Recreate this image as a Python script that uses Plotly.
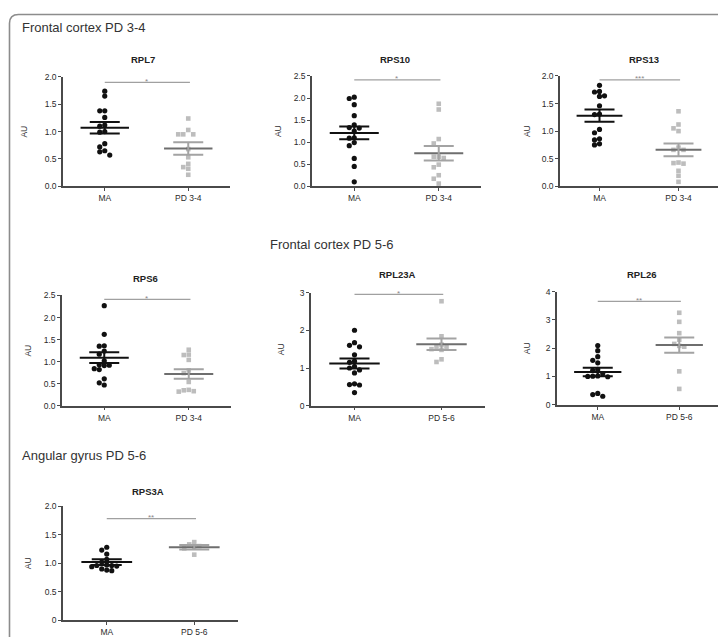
import plotly.graph_objects as go

W, H = 726, 637

# ---------------- data ----------------
panel_titles = ["RPL7", "RPS10", "RPS13", "RPS6", "RPL23A", "RPL26", "RPS3A"]
section_titles = ["Frontal cortex PD 3-4", "Frontal cortex PD 5-6", "Angular gyrus PD 5-6"]
control_label = "MA"
pd_labels = ["PD 3-4", "PD 3-4", "PD 3-4", "PD 3-4", "PD 5-6", "PD 5-6", "PD 5-6"]

ma_values = [
    [1.74, 1.65, 1.38, 1.38, 1.26, 1.12, 1.10, 1.00, 0.99, 0.78, 0.72, 0.65, 0.63, 0.57],
    [2.02, 1.99, 1.85, 1.60, 1.39, 1.33, 1.32, 1.25, 1.10, 1.09, 0.99, 0.92, 0.63, 0.45, 0.10],
    [1.83, 1.72, 1.71, 1.64, 1.63, 1.46, 1.31, 1.30, 1.03, 0.97, 0.86, 0.84, 0.77, 0.75],
    [2.27, 1.62, 1.36, 1.35, 1.24, 1.17, 1.02, 0.93, 0.92, 0.91, 0.84, 0.82, 0.61, 0.52, 0.47],
    [2.00, 1.67, 1.60, 1.56, 1.35, 1.18, 1.15, 1.04, 1.00, 0.95, 0.87, 0.58, 0.56, 0.55, 0.35],
    [2.09, 1.91, 1.70, 1.57, 1.48, 1.25, 1.22, 1.10, 1.02, 1.01, 1.00, 0.99, 0.40, 0.36, 0.30],
    [1.28, 1.23, 1.16, 1.07, 1.02, 0.97, 0.96, 0.96, 0.95, 0.94, 0.90, 0.88, 0.87],
]
pd_values = [
    [1.24, 1.03, 0.95, 0.95, 0.95, 0.68, 0.53, 0.41, 0.35, 0.32, 0.21],
    [1.87, 1.74, 1.07, 0.97, 0.67, 0.67, 0.64, 0.49, 0.43, 0.25, 0.17, 0.06],
    [1.36, 1.12, 1.05, 1.00, 0.70, 0.66, 0.66, 0.43, 0.42, 0.41, 0.28, 0.19, 0.08],
    [1.27, 1.16, 1.15, 1.04, 0.80, 0.74, 0.54, 0.36, 0.33, 0.32, 0.35],
    [2.77, 1.84, 1.62, 1.56, 1.55, 1.50, 1.48, 1.23, 1.16],
    [3.25, 2.93, 2.53, 2.30, 2.15, 2.08, 2.05, 1.18, 0.56],
    [1.37, 1.33, 1.30, 1.28, 1.26, 1.15],
]
ma_mean = [1.07, 1.21, 1.28, 1.09, 1.12, 1.16, 1.02]
ma_sem = [0.105, 0.145, 0.11, 0.12, 0.135, 0.15, 0.05]
pd_mean = [0.69, 0.75, 0.66, 0.72, 1.63, 2.11, 1.28]
pd_sem = [0.115, 0.165, 0.115, 0.11, 0.155, 0.27, 0.04]

y_max = [2.0, 2.5, 2.0, 2.5, 3.0, 4.0, 2.0]
y_tick_vals = [
    [0, 0.5, 1.0, 1.5, 2.0],
    [0, 0.5, 1.0, 1.5, 2.0, 2.5],
    [0, 0.5, 1.0, 1.5, 2.0],
    [0, 0.5, 1.0, 1.5, 2.0, 2.5],
    [0, 1, 2, 3],
    [0, 1, 2, 3, 4],
    [0, 0.5, 1.0, 1.5, 2.0],
]
y_tick_text = [
    ["0.0", "0.5", "1.0", "1.5", "2.0"],
    ["0.0", "0.5", "1.0", "1.5", "2.0", "2.5"],
    ["0.0", "0.5", "1.0", "1.5", "2.0"],
    ["0.0", "0.5", "1.0", "1.5", "2.0", "2.5"],
    ["0", "1", "2", "3"],
    ["0", "1", "2", "3", "4"],
    ["0", "0.5", "1.0", "1.5", "2.0"],
]
y_title = "AU"
sig_labels = ["*", "*", "***", "*", "*", "**", "**"]
sig_level = [1.90, 2.41, 1.93, 2.41, 2.95, 3.65, 1.78]

# ---------------- layout (pixel boxes) ----------------
dom_x = [(55, 222), (304, 473), (552, 710), (54, 223), (303, 477), (549, 712), (55, 230)]
dom_y = [(65, 176), (64, 176), (64, 176), (287, 399), (284, 399), (283, 398), (501, 617)]
title_pos = [(135, 47), (387, 47), (636, 47), (137, 270), (389, 266), (634, 266), (140, 486)]
au_x = [16, 270, 519, 20, 273, 519, 20]
section_pos = [(12, 15, "left"), (260, 235, "left"), (12, 450, "left")]

FONT = "Liberation Sans, Arial, sans-serif"
MA_COL = "#111111"
PD_COL = "#bdbdbd"
PD_MEAN_COL = "#6e6e6e"
PD_SEM_COL = "#a3a3a3"
AX_COL = "#4a4a4a"


def px2x(p):
    return p / W


def px2y(p):
    return 1 - p / H


def swarm(values, ppu_x, ppu_y, d=5.0):
    offs = [0.0] * len(values)
    placed = []
    order = sorted(range(len(values)), key=lambda i: -values[i])
    cands = [0] + [s * j for j in range(1, 12) for s in (-1, 1)]
    for i in order:
        yv = values[i] * ppu_y
        xo = 0.0
        for c in cands:
            xo = c * d
            if all((xo - a) ** 2 + (yv - b) ** 2 >= (d * 0.97) ** 2 for a, b in placed):
                break
        placed.append((xo, yv))
        offs[i] = xo / ppu_x
    return offs


fig = go.Figure()
annotations = []
shapes = []

for i in range(len(panel_titles)):
    k = "" if i == 0 else str(i + 1)
    xa, ya = "x" + k, "y" + k
    x0, x1 = dom_x[i]
    y0, y1 = dom_y[i]
    ppu_x = (x1 - x0) / 2.0
    ppu_y = (y1 - y0) / y_max[i]

    for g, (vals, mean, sem, col, mcol, scol, sym) in enumerate([
        (ma_values[i], ma_mean[i], ma_sem[i], MA_COL, MA_COL, MA_COL, "circle"),
        (pd_values[i], pd_mean[i], pd_sem[i], PD_COL, PD_MEAN_COL, PD_SEM_COL, "square"),
    ]):
        offs = swarm(vals, ppu_x, ppu_y)
        fig.add_trace(go.Scatter(
            x=[g + o for o in offs], y=vals, mode="markers", xaxis=xa, yaxis=ya,
            marker=dict(symbol=sym, size=5.2 if sym == "circle" else 4.6, color=col, line=dict(width=0)),
            cliponaxis=False, hoverinfo="y",
        ))
        # mean line
        fig.add_trace(go.Scatter(
            x=[g - 0.29, g + 0.29], y=[mean, mean], mode="lines", xaxis=xa, yaxis=ya,
            line=dict(color=mcol, width=2), cliponaxis=False, hoverinfo="skip",
        ))
        # SEM bar
        fig.add_trace(go.Scatter(
            x=[g], y=[mean], mode="markers", xaxis=xa, yaxis=ya,
            marker=dict(size=1, color="rgba(0,0,0,0)"),
            error_y=dict(type="data", array=[sem], visible=True, color=scol, thickness=2, width=15),
            cliponaxis=False, hoverinfo="skip",
        ))

    # significance bar
    fig.add_trace(go.Scatter(
        x=[0, 1.02], y=[sig_level[i], sig_level[i]], mode="lines", xaxis=xa, yaxis=ya,
        line=dict(color="#a0a0a0", width=1.3), cliponaxis=False, hoverinfo="skip",
    ))
    annotations.append(dict(
        x=0.5, y=sig_level[i], xref=xa, yref=ya, text=sig_labels[i], showarrow=False,
        yanchor="middle", yshift=1, font=dict(family=FONT, size=8, color="#8a8a8a"),
    ))

    axis_common = dict(showgrid=False, zeroline=False, showline=True, linecolor=AX_COL,
                       linewidth=1.5, ticks="outside", ticklen=3, tickwidth=1.2,
                       tickcolor=AX_COL, tickfont=dict(family=FONT, size=8.5, color="#2a2a2a"),
                       fixedrange=True)
    fig.update_layout(**{
        ("xaxis" + k): dict(domain=[px2x(x0), px2x(x1)], range=[-0.5, 1.5], anchor=ya,
                            tickmode="array", tickvals=[0, 1],
                            ticktext=[control_label, pd_labels[i]], **axis_common),
        ("yaxis" + k): dict(domain=[px2y(y1), px2y(y0)], range=[0, y_max[i]], anchor=xa,
                            tickmode="array", tickvals=y_tick_vals[i],
                            ticktext=y_tick_text[i], **axis_common),
    })

    tx, ty = title_pos[i]
    annotations.append(dict(
        x=px2x(tx), y=px2y(ty), xref="paper", yref="paper", text="<b>%s</b>" % panel_titles[i],
        showarrow=False, xanchor="center", yanchor="middle",
        font=dict(family=FONT, size=9.5, color="#222"),
    ))
    annotations.append(dict(
        x=px2x(au_x[i]), y=px2y((y0 + y1) / 2), xref="paper", yref="paper", text=y_title,
        showarrow=False, xanchor="center", yanchor="middle", textangle=-90,
        font=dict(family=FONT, size=8.5, color="#333"),
    ))

for (sx, sy, anc), txt in zip(section_pos, section_titles):
    annotations.append(dict(
        x=px2x(sx), y=px2y(sy), xref="paper", yref="paper", text=txt, showarrow=False,
        xanchor=anc, yanchor="middle", font=dict(family=FONT, size=13, color="#333"),
    ))

# outer rounded frame
fx0, fx1, fy0, fy1, r = 1.5, 723.0, 1.5, 645.0, 9.0
path = ("M {a},{b} L {a},{c} Q {a},{d} {e},{d} L {f},{d} Q {g},{d} {g},{c} L {g},{b}"
        .format(a=px2x(fx0), b=px2y(fy1), c=px2y(fy0 + r), d=px2y(fy0), e=px2x(fx0 + r),
                f=px2x(fx1 - r), g=px2x(fx1)))
shapes.append(dict(type="path", path=path, xref="paper", yref="paper",
                   line=dict(color="#8c8c8c", width=1.6)))

fig.update_layout(
    width=W, height=H, margin=dict(l=0, r=0, t=0, b=0),
    paper_bgcolor="white", plot_bgcolor="white", showlegend=False,
    annotations=annotations, shapes=shapes,
)

fig.write_html("out.html")
